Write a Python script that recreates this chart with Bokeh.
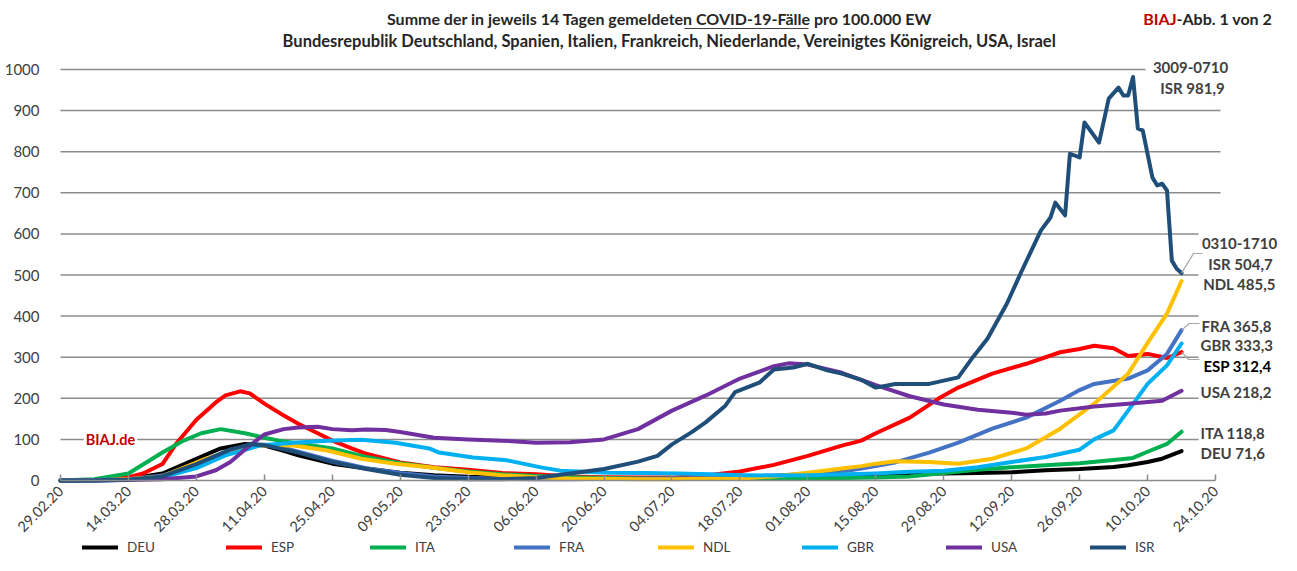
import pandas as pd
from math import pi
from bokeh.plotting import figure
from bokeh.models import (Range1d, FixedTicker, DatetimeTickFormatter, Label,
                          Legend, LegendItem)
from bokeh.embed import file_html
from bokeh.resources import INLINE

START = "2020-02-29"

tick_labels = ["29.02.20", "14.03.20", "28.03.20", "11.04.20", "25.04.20", "09.05.20",
               "23.05.20", "06.06.20", "20.06.20", "04.07.20", "18.07.20", "01.08.20",
               "15.08.20", "29.08.20", "12.09.20", "26.09.20", "10.10.20", "24.10.20"]
y_ticks = [0, 100, 200, 300, 400, 500, 600, 700, 800, 900, 1000]

# day offsets since 29.02.2020 and 14-day cases per 100,000
DEU_days = [0,7,14,21,28,33,38,42,46,49,56,63,70,77,84,91,98,105,112,119,126,133,140,147,154,161,168,175,182,189,196,203,210,217,220,224,227,231]
DEU_vals = [0,1,4,17,53,78,89,85,72,61,41,29,19,13,9,7,5,4,5,6,5,5,6,8,10,12,15,17,17,18,20,25,28,33,37,45,53,71.6]

ESP_days = [0,7,14,17,21,24,28,32,34,37,39,42,46,49,53,56,60,63,70,77,84,91,98,105,112,119,126,133,140,147,154,161,165,168,175,181,185,192,199,206,210,213,217,220,224,228,231]
ESP_vals = [0,1,8,17,40,92,148,190,207,217,212,187,158,138,115,97,78,65,44,32,26,18,15,10,8,7,7,12,22,38,60,85,97,115,153,200,226,260,284,312,320,328,322,303,308,298,312.4]

ITA_days = [0,7,14,21,25,29,33,38,42,45,49,56,63,70,77,84,91,98,105,112,119,126,133,140,147,154,161,168,175,182,189,196,203,210,217,221,224,228,231]
ITA_vals = [0,3,17,68,95,115,125,115,104,97,90,78,57,42,31,22,15,11,8,6,5,4,4,4,5,5,6,7,10,18,26,32,37,42,50,55,70,89,118.8]

FRA_days = [0,7,14,21,28,35,40,44,49,56,63,70,77,84,91,98,105,112,119,126,133,140,147,154,161,165,172,179,185,192,199,206,210,213,220,224,228,231]
FRA_vals = [0,1,3,12,40,75,88,86,70,48,30,18,10,6,4,3,3,4,4,5,6,9,12,16,22,29,44,68,92,126,153,194,220,235,248,268,308,365.8]

NDL_days = [0,7,14,21,30,35,41,48,55,62,69,76,84,91,98,105,112,119,126,133,140,147,154,161,165,168,172,179,185,192,199,206,213,220,224,228,231]
NDL_vals = [0,0,3,10,53,70,85,85,73,53,41,32,20,13,8,5,4,3,3,4,5,10,19,29,35,41,47,45,41,53,78,126,187,260,335,406,485.5]

GBR_days = [0,7,14,21,28,34,41,48,55,62,69,76,78,85,92,99,103,113,120,127,134,141,148,155,162,168,175,182,189,196,203,210,213,217,220,224,228,231]
GBR_vals = [0,0,2,8,30,61,85,92,97,99,92,78,68,56,49,32,24,19,18,17,15,13,12,13,15,17,21,24,32,45,57,75,100,122,170,235,280,333.3]

USA_days = [0,7,14,21,28,32,35,39,42,46,49,53,56,60,63,67,70,77,84,91,98,105,112,119,126,133,140,147,150,154,161,168,175,182,189,196,199,203,206,213,220,227,231]
USA_vals = [0,0,1,3,10,25,45,85,112,125,129,131,125,122,124,123,118,104,100,97,92,93,100,125,170,207,248,278,285,282,262,232,205,185,172,165,160,163,170,180,187,194,218.2]

ISR_days = [0,7,14,21,28,35,39,42,49,56,63,70,77,84,91,98,105,112,119,123,126,130,133,137,139,144,147,151,154,158,161,165,168,172,179,185,188,191,195,198,202,204,205,207,208,210,211,214,216,218,219,220,221,222,223,225,226,227,228,229,230,231]
ISR_vals = [0,0,2,10,40,75,88,86,68,45,28,14,6,3,3,6,17,28,46,60,88,117,142,182,215,238,270,275,284,268,260,245,226,235,235,251,300,345,430,508,608,640,676,645,795,786,871,822,929,956,937,937,981.9,856,852,737,718,722,706,535,515,504.7]

series_names = ["DEU", "ESP", "ITA", "FRA", "NDL", "GBR", "USA", "ISR"]
series_colors = ["#000000", "#FF0000", "#00B050", "#4472C4", "#FFC000", "#00B0F0", "#7030A0", "#1F4E79"]
series_data = [(DEU_days, DEU_vals), (ESP_days, ESP_vals), (ITA_days, ITA_vals), (FRA_days, FRA_vals),
               (NDL_days, NDL_vals), (GBR_days, GBR_vals), (USA_days, USA_vals), (ISR_days, ISR_vals)]

# ---------------------------------------------------------------------------
DAY_MS = 86400000.0
t0 = pd.Timestamp(START)
T0_MS = t0.value / 1e6

def to_ms(days):
    return [T0_MS + d * DAY_MS for d in days]

# layout helpers (canvas pixel -> data coordinates)
PX_DAY = 4.853
PX_UNIT = 0.411
def xd(px):
    return T0_MS + (px - 60) / PX_DAY * DAY_MS
def yd(py):
    return (480 - py) / PX_UNIT

tick_ms = [pd.to_datetime(t, format="%d.%m.%y").value / 1e6 for t in tick_labels]

W, H = 1281, 555
p = figure(width=W, height=H, x_axis_type="datetime",
           x_range=Range1d(xd(0), xd(W)), y_range=Range1d(yd(H), yd(0)),
           output_backend="svg", toolbar_location=None,
           min_border_left=0, min_border_right=0, min_border_top=0, min_border_bottom=0)
p.outline_line_color = None
p.background_fill_color = "white"
p.xgrid.grid_line_color = None
p.ygrid.grid_line_color = None

FONT = "Lato"
TXT = "#404040"
GRID = "#8C8C8C"

# horizontal grid lines (ending where the reference's lines end)
grid_vals = y_ticks[1:]
grid_end_px = [1198, 1198, 1198, 1198, 1198, 1198, 1220, 1220, 1220, 1145]
p.segment(x0=[T0_MS] * len(grid_vals), y0=grid_vals,
          x1=[xd(e) for e in grid_end_px], y1=grid_vals,
          line_color=GRID, line_width=1.5)

fmt = "%d.%m.%y"
p.xaxis.fixed_location = 0
p.xaxis.ticker = FixedTicker(ticks=tick_ms)
p.xaxis.formatter = DatetimeTickFormatter(milliseconds=fmt, seconds=fmt, minsec=fmt, minutes=fmt,
                                          hourmin=fmt, hours=fmt, days=fmt, months=fmt, years=fmt)
p.xaxis.major_label_orientation = pi / 4
p.xaxis.axis_line_color = GRID
p.xaxis.axis_line_width = 1.5
p.xaxis.major_tick_line_color = GRID
p.xaxis.major_tick_line_width = 1.5
p.xaxis.major_tick_in = 6
p.xaxis.major_tick_out = 0
p.xaxis.minor_tick_line_color = None
p.xaxis.bounds = (T0_MS, tick_ms[-1])
p.xaxis.major_label_text_font = FONT
p.xaxis.major_label_text_font_size = "14.5px"
p.xaxis.major_label_text_color = TXT
p.xaxis.major_label_standoff = 8

p.yaxis.fixed_location = T0_MS
p.yaxis.ticker = FixedTicker(ticks=y_ticks)
p.yaxis.axis_line_color = None
p.yaxis.major_tick_line_color = None
p.yaxis.minor_tick_line_color = None
p.yaxis.major_label_text_font = FONT
p.yaxis.major_label_text_font_size = "15px"
p.yaxis.major_label_text_color = TXT
p.yaxis.major_label_standoff = 15

items = []
for name, col, (dd, vv) in zip(series_names, series_colors, series_data):
    r = p.line(to_ms(dd), vv, line_color=col, line_width=4, line_join="round", line_cap="round")
    items.append(LegendItem(label=name, renderers=[r]))

legend = Legend(items=items, orientation="horizontal", location=(82, 0),
                glyph_width=36, glyph_height=12, label_width=99, label_height=12,
                label_standoff=9, spacing=0, padding=0, margin=0, border_line_color=None,
                background_fill_alpha=0,
                label_text_font=FONT, label_text_font_size="13.5px", label_text_color=TXT)
p.add_layout(legend, "center")

# leader lines from series ends to their labels
isr_end = (T0_MS + ISR_days[-1] * DAY_MS, ISR_vals[-1])
fra_end = (T0_MS + FRA_days[-1] * DAY_MS, FRA_vals[-1])
esp_end = (T0_MS + ESP_days[-1] * DAY_MS, ESP_vals[-1])
for (ex, ey), mids in [(isr_end, [(1193, 253), (1202, 253)]),
                       (fra_end, [(1189, 323), (1199, 323)]),
                       (esp_end, [(1188, 359), (1199, 359)])]:
    xs = [ex] + [xd(a) for a, b in mids]
    ys = [ey] + [yd(b) for a, b in mids]
    p.line(xs, ys, line_color="#A6A6A6", line_width=1.2)

def lab(text, px, py, align="left", color=TXT, size="15px", style="bold", bg=None, pad=0):
    kw = {}
    if bg is not None:
        kw = dict(background_fill_color=bg, padding=pad)
    p.add_layout(Label(x=xd(px), y=yd(py), text=text, text_align=align, text_baseline="middle",
                       text_font=FONT, text_font_size=size, text_font_style=style,
                       text_color=color, **kw))

# titles
lab("Summe der in jeweils 14 Tagen gemeldeten COVID-19-Fälle pro 100.000 EW", 659, 18,
    align="center", color="#262626", size="16px")
lab("Bundesrepublik Deutschland, Spanien, Italien, Frankreich, Niederlande, Vereinigtes Königreich, USA, Israel",
    669, 40, align="center", color="#262626", size="16.5px")
lab("BIAJ", 1176, 18, align="right", color="#C00000", size="16px")
lab("-Abb. 1 von 2", 1176, 18, align="left", color="#262626", size="16px")
# underline of "COVID-19-Fälle"
p.segment(x0=[xd(684)], y0=[yd(28)], x1=[xd(808)], y1=[yd(28)], line_color="#404040", line_width=1)

lab("BIAJ.de", 110, 439, align="center", color="#C00000", size="14.5px", bg="white", pad=(2, 10))

# end annotations
lab("3009-0710", 1190, 67, align="center")
lab("ISR 981,9", 1192, 87, align="center")
lab("0310-1710", 1239, 243, align="center")
lab("ISR 504,7", 1240, 263, align="center")
lab("NDL 485,5", 1239, 283, align="center")
lab("FRA 365,8", 1201, 325)
lab("GBR 333,3", 1200, 344)
lab("ESP 312,4", 1203, 365, color="#000000")
lab("USA 218,2", 1200, 391)
lab("ITA 118,8", 1200, 432)
lab("DEU 71,6", 1200, 452)

open("out.html", "w").write(file_html(p, INLINE))
